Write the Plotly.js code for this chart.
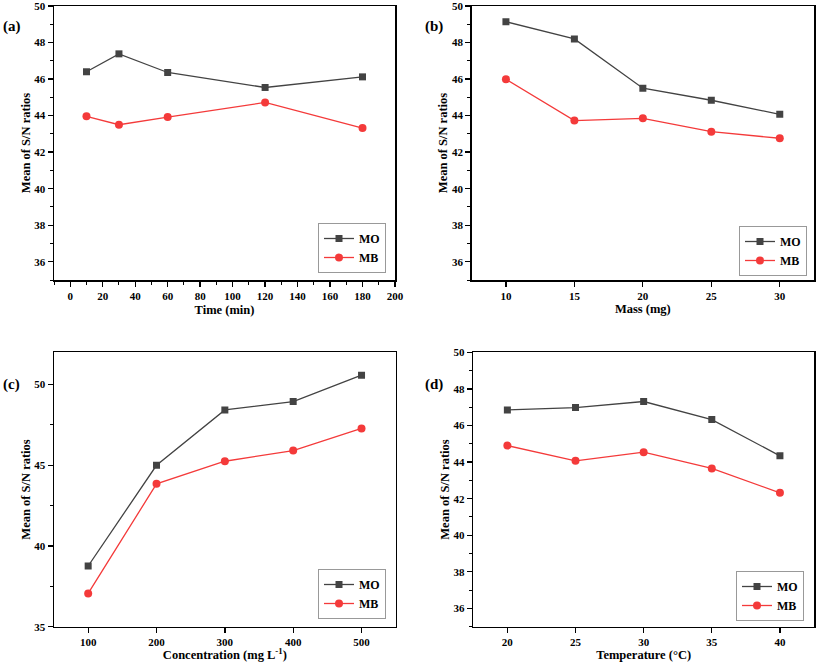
<!DOCTYPE html>
<html>
<head>
<meta charset="utf-8">
<script src="https://cdn.plot.ly/plotly-3.0.1.min.js"></script>
<style>html,body{margin:0;padding:0;background:#fff;}#chart{width:817px;height:662px;}</style>
</head>
<body>
<div id="chart"></div>
<script>
// ---- data ----
const seriesNames = ["MO", "MB"];
const panelLabels = ["(a)", "(b)", "(c)", "(d)"];
const xTitles = ["Time (min)", "Mass (mg)", "Concentration (mg L<sup>-1</sup>)", "Temperature (°C)"];
const yTitle = "Mean of S/N ratios";

const timeX = [10, 30, 60, 120, 180];
const timeMO = [46.40, 47.38, 46.36, 45.54, 46.12];
const timeMB = [43.96, 43.50, 43.92, 44.72, 43.32];

const massX = [10, 15, 20, 25, 30];
const massMO = [49.14, 48.20, 45.50, 44.84, 44.07];
const massMB = [45.99, 43.73, 43.85, 43.12, 42.76];

const concX = [100, 200, 300, 400, 500];
const concMO = [38.76, 45.00, 48.43, 48.95, 50.58];
const concMB = [37.06, 43.85, 45.25, 45.91, 47.28];

const tempX = [20, 25, 30, 35, 40];
const tempMO = [46.85, 46.98, 47.31, 46.32, 44.34];
const tempMB = [44.90, 44.07, 44.54, 43.65, 42.32];

// ---- styling ----
const W = 817, H = 662;
const FONT = "Liberation Serif";
const moColor = "#434343";
const mbColor = "#f43a3a";

const panels = [
  {x: timeX, mo: timeMO, mb: timeMB, px: [54, 395], py: [6, 280], xr: [-10, 200], xd: 20, xminor: 10, yr: [35, 50], yd: 2, yminor: 1, leg: [386, 273], xs: 4},
  {x: massX, mo: massMO, mb: massMB, px: [471.7, 814], py: [6, 280], xr: [7.5, 32.5], xd: 5, xminor: null, yr: [35, 50], yd: 2, yminor: 1, leg: [807, 276], xs: 0},
  {x: concX, mo: concMO, mb: concMB, px: [54, 395.7], py: [352.3, 626.7], xr: [50, 550], xd: 100, xminor: null, yr: [35, 52], yd: 5, yminor: 2.5, leg: [386, 619], xs: 0},
  {x: tempX, mo: tempMO, mb: tempMB, px: [473.3, 814], py: [352.3, 626.7], xr: [17.5, 42.5], xd: 5, xminor: null, yr: [35, 50], yd: 2, yminor: 1, leg: [804, 621], xs: 1}
];
const labelPos = [[1, 26], [423, 26], [1, 384], [423, 384]];

const traces = [];
const layout = {
  width: W, height: H,
  margin: {l: 0, r: 0, t: 0, b: 0},
  paper_bgcolor: "#fff", plot_bgcolor: "#fff",
  font: {family: FONT, color: "#000"},
  annotations: [],
  showlegend: true
};

panels.forEach((p, i) => {
  const n = i === 0 ? "" : String(i + 1);
  const legName = "legend" + n;
  traces.push({
    x: p.x, y: p.mo, name: seriesNames[0], type: "scatter", mode: "lines+markers",
    xaxis: "x" + n, yaxis: "y" + n, legend: legName,
    line: {color: moColor, width: 1.3},
    marker: {symbol: "square", size: 7, color: moColor}
  });
  traces.push({
    x: p.x, y: p.mb, name: seriesNames[1], type: "scatter", mode: "lines+markers",
    xaxis: "x" + n, yaxis: "y" + n, legend: legName,
    line: {color: mbColor, width: 1.3},
    marker: {symbol: "circle", size: 8, color: mbColor}
  });
  const xa = {
    domain: [p.px[0] / W, p.px[1] / W],
    anchor: "y" + n,
    range: p.xr, dtick: p.xd, tick0: 0,
    showgrid: false, zeroline: false,
    showline: true, linecolor: "#000", linewidth: 1.5, mirror: true,
    ticks: "outside", ticklen: 5, tickwidth: 1.3, tickcolor: "#000",
    ticklabeloverflow: "allow",
    tickfont: {family: FONT, size: 11, weight: 700, color: "#000"},
    title: {text: xTitles[i], font: {family: FONT, size: 12.5, weight: 700, color: "#000"}, standoff: p.xs}
  };
  if (p.xminor) xa.minor = {dtick: p.xminor, ticks: "outside", ticklen: 3, tickwidth: 1, tickcolor: "#000", showgrid: false};
  const ya = {
    domain: [1 - p.py[1] / H, 1 - p.py[0] / H],
    anchor: "x" + n,
    range: p.yr, dtick: p.yd, tick0: 0,
    showgrid: false, zeroline: false,
    showline: true, linecolor: "#000", linewidth: 1.5, mirror: true,
    ticks: "outside", ticklen: 5, tickwidth: 1.3, tickcolor: "#000",
    ticklabeloverflow: "allow",
    tickfont: {family: FONT, size: 11, weight: 700, color: "#000"},
    minor: {dtick: p.yminor, ticks: "outside", ticklen: 3, tickwidth: 1, tickcolor: "#000", showgrid: false},
    title: {text: yTitle, font: {family: FONT, size: 12.5, weight: 700, color: "#000"}, standoff: 1}
  };
  layout["xaxis" + n] = xa;
  layout["yaxis" + n] = ya;
  layout[legName] = {
    x: p.leg[0] / W, y: 1 - p.leg[1] / H, xanchor: "right", yanchor: "bottom",
    bgcolor: "#fff", bordercolor: "#999", borderwidth: 1,
    font: {family: FONT, size: 12, weight: 700, color: "#000"},
    tracegroupgap: 0, itemwidth: 30
  };
  layout.annotations.push({
    xref: "paper", yref: "paper", x: labelPos[i][0] / W, y: 1 - labelPos[i][1] / H,
    xanchor: "left", yanchor: "middle", showarrow: false,
    text: panelLabels[i], font: {family: FONT, size: 15, weight: 700, color: "#000"}
  });
});

Plotly.newPlot("chart", traces, layout, {staticPlot: true, displayModeBar: false});
</script>
</body>
</html>
